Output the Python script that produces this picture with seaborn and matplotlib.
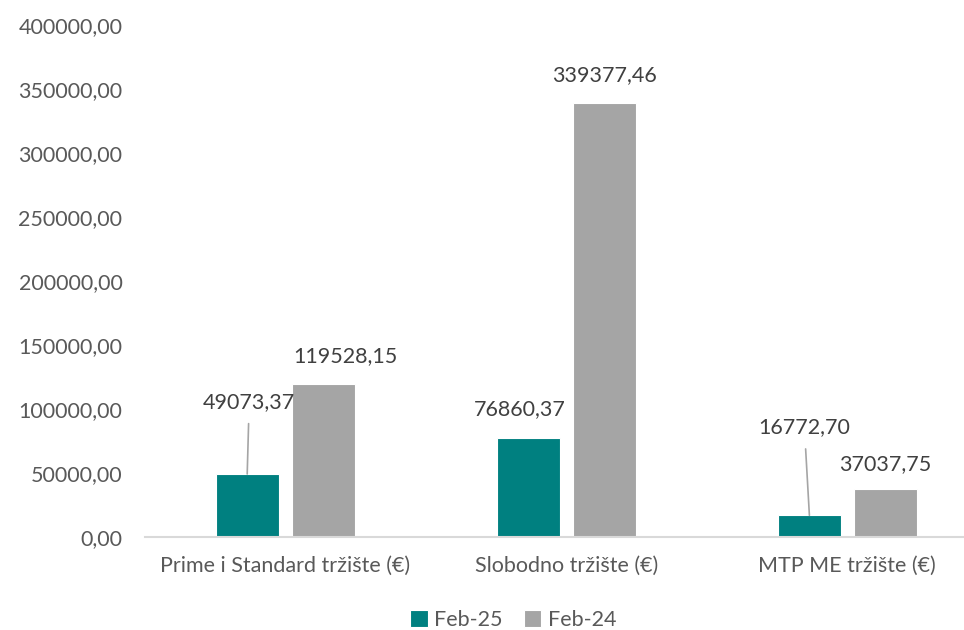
import matplotlib
matplotlib.use("Agg")
import matplotlib.pyplot as plt
import matplotlib.ticker as mticker
import seaborn as sns
import pandas as pd

# podaci
categories = ["Prime i Standard tržište (€)", "Slobodno tržište (€)", "MTP ME tržište (€)"]
feb25 = [49073.37, 76860.37, 16772.70]
feb24 = [119528.15, 339377.46, 37037.75]
series = ["Feb-25", "Feb-24"]
colors = ["#008080", "#A5A5A5"]

df = pd.DataFrame({
    "kategorija": categories * 2,
    "vrijednost": feb25 + feb24,
    "period": [series[0]] * 3 + [series[1]] * 3,
})

sns.set_style("white")
plt.rcParams["font.family"] = ["Lato", "DejaVu Sans"]
FS = 15.5

fig = plt.figure(figsize=(9.64, 6.3), dpi=100)
ax = fig.add_axes([0.150, 0.148, 0.850, 0.812])

sns.barplot(data=df, x="kategorija", y="vrijednost", hue="period",
            palette=colors, saturation=1, width=0.54, gap=0.17,
            edgecolor="white", linewidth=0.8, ax=ax, legend=True)

ax.set_ylim(0, 400000)
ax.set_xlim(-0.5, 2.415)
ax.yaxis.set_major_locator(mticker.MultipleLocator(50000))
ax.yaxis.set_major_formatter(
    mticker.FuncFormatter(lambda v, p: f"{v:.2f}".replace(".", ",")))
ax.set_xlabel("")
ax.set_ylabel("")
ax.tick_params(axis="both", length=0, labelsize=FS, colors="#595959")
ax.tick_params(axis="y", pad=16)
ax.tick_params(axis="x", pad=14)
for s in ["top", "right", "left"]:
    ax.spines[s].set_visible(False)
ax.spines["bottom"].set_color("#D9D9D9")
ax.spines["bottom"].set_linewidth(1.5)

# oznake vrijednosti (pomak u pikselima od vrha stupca)
offsets = {
    (0, 0): (2, 72), (0, 1): (-8, 29), (0, 2): (-5, 88),
    (1, 0): (22, 28), (1, 1): (0, 28), (1, 2): (0, 25),
}
leaders = {(0, 0), (0, 2)}
bars = [p for p in ax.patches if p.get_height() > 0]
vals = [feb25, feb24]
for si in range(2):
    for ci in range(3):
        bar = bars[si * 3 + ci]
        x = bar.get_x() + bar.get_width() / 2
        y = bar.get_height()
        dx, dy = offsets[(si, ci)]
        txt = f"{vals[si][ci]:.2f}".replace(".", ",")
        kw = {}
        if (si, ci) in leaders:
            kw["arrowprops"] = dict(arrowstyle="-", color="#A5A5A5", lw=1.2,
                                    shrinkA=6, shrinkB=0)
        ax.annotate(txt, xy=(x, y), xytext=(dx * 0.72, dy * 0.72),
                    textcoords="offset points", ha="center", va="center",
                    fontsize=FS, color="#404040", **kw)

ax.legend(loc="upper center", bbox_to_anchor=(0.45, -0.105), ncol=2,
          frameon=False, fontsize=FS, handlelength=0.8, handleheight=0.8,
          handletextpad=0.3, columnspacing=1.0, labelcolor="#595959")

fig.savefig("out.png", dpi=100)
